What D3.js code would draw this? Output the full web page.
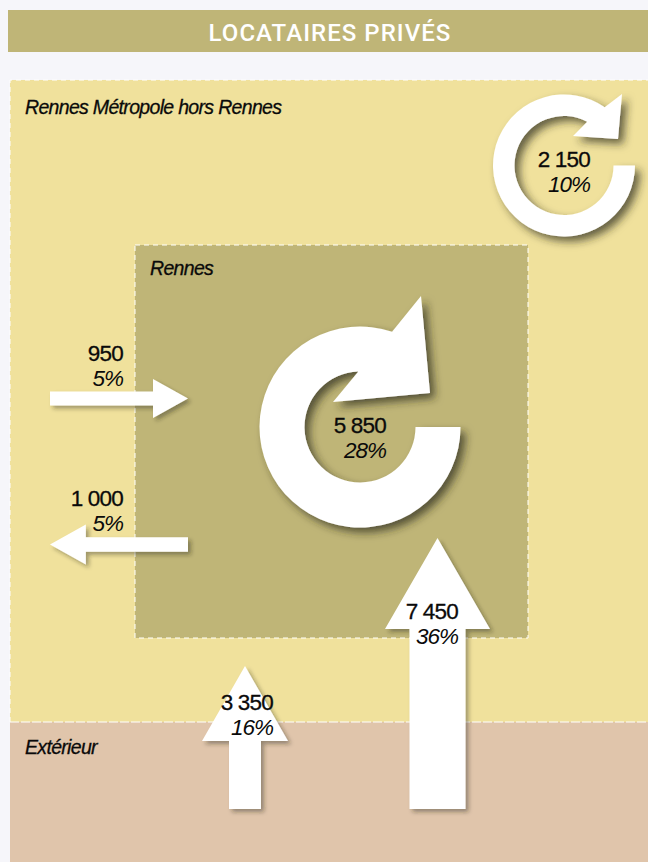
<!DOCTYPE html>
<html>
<head>
<meta charset="utf-8">
<script src="https://cdn.jsdelivr.net/npm/d3@7/dist/d3.min.js"></script>
<style>
  html, body { margin: 0; padding: 0; background: #f6f6fa; }
  svg { display: block; }
  text { font-family: "Liberation Sans", sans-serif; fill: #0a0a0a; }
</style>
</head>
<body>
<svg id="chart"></svg>
<script>
// values
var title = "LOCATAIRES PRIVÉS";
var zoneNames = ["Rennes Métropole hors Rennes", "Rennes", "Extérieur"];
var flowLabels = ["950", "1 000", "3 350", "7 450"];
var flowValues = [950, 1000, 3350, 7450];
var flowShares = ["5%", "5%", "16%", "36%"];
var loopLabels = ["2 150", "5 850"];
var loopValues = [2150, 5850];
var loopShares = ["10%", "28%"];

var width = 648;
var height = 862;

var svg = d3.select("#chart").attr("width", width).attr("height", height);

// arrows thickness from the flow value
var shaft = d3.scaleLinear().domain([950, 3350, 7450]).range([14, 32, 56]);
var headWidth = d3.scaleLinear().domain([950, 3350, 7450]).range([39, 86, 105]);
var headLength = d3.scaleLinear().domain([950, 3350, 7450]).range([35, 75, 91]);

// rings from the loop value
var outerR = d3.scaleLinear().domain([2150, 5850]).range([71, 100.5]);
var innerR = d3.scaleLinear().domain([2150, 5850]).range([49.5, 55.5]);

var defs = svg.append("defs");
function addShadow(id, dx, blur, op) {
  defs.append("filter").attr("id", id)
    .attr("x", "-20%").attr("y", "-20%").attr("width", "150%").attr("height", "150%")
    .append("feDropShadow")
    .attr("dx", dx).attr("dy", dx)
    .attr("stdDeviation", blur)
    .attr("flood-color", "#2b2a1a")
    .attr("flood-opacity", op);
}
addShadow("shadowArrow", 3, 2, 0.4);
addShadow("shadowRing", 5, 4, 0.7);

// background zones
var dash = "5,4";
svg.append("rect").attr("x", 8).attr("y", 10).attr("width", 640).attr("height", 42).attr("fill", "#bfb577");
svg.append("text").attr("x", 330).attr("y", 41)
  .attr("text-anchor", "middle")
  .style("font-family", "Roboto, sans-serif")
  .style("font-weight", 500)
  .style("font-size", "24px")
  .style("letter-spacing", "1.05px")
  .style("fill", "#fff")
  .text(title);

svg.append("rect").attr("x", 10).attr("y", 80).attr("width", 638).attr("height", 642).attr("fill", "#f0e19c");
svg.append("rect").attr("x", 10).attr("y", 722).attr("width", 638).attr("height", 140).attr("fill", "#e0c5ab");
svg.append("path").attr("d", "M10,722V80H648").attr("fill", "none")
  .attr("stroke", "#fff").attr("stroke-width", 1).attr("stroke-dasharray", dash);
svg.append("line").attr("x1", 10).attr("x2", 648).attr("y1", 722).attr("y2", 722)
  .attr("stroke", "#fff").attr("stroke-width", 1).attr("stroke-dasharray", "9,2");
svg.append("rect").attr("x", 135).attr("y", 245).attr("width", 393).attr("height", 393)
  .attr("fill", "#bfb577")
  .attr("stroke", "#fff").attr("stroke-width", 1).attr("stroke-dasharray", dash);

var zoneX = [25, 150, 25];
var zoneY = [114, 275, 754];
svg.selectAll(".zone").data(zoneNames).enter().append("text")
  .attr("class", "zone")
  .attr("x", (d, i) => zoneX[i])
  .attr("y", (d, i) => zoneY[i])
  .style("font-style", "italic")
  .style("font-size", "19.5px")
  .style("letter-spacing", "-0.68px")
  .style("stroke", "#0a0a0a")
  .style("stroke-width", "0.3px")
  .text(d => d);

// straight arrows: axis position, tail and tip along the axis
var arrowAxis = [398.5, 544.5, 245, 437.5];
var arrowTail = [50, 188, 809, 809];
var arrowTip = [188, 50, 666, 538];
var arrowHorizontal = [true, true, false, false];

var line = d3.line();

function arrowPoints(v, i) {
  var c = arrowAxis[i], t0 = arrowTail[i], t1 = arrowTip[i];
  var dir = t1 > t0 ? 1 : -1;
  var base = t1 - dir * headLength(v);
  var s = shaft(v) / 2, h = headWidth(v) / 2;
  var pts = [[t0, c - s], [base, c - s], [base, c - h], [t1, c], [base, c + h], [base, c + s], [t0, c + s]];
  return arrowHorizontal[i] ? pts : pts.map(p => [p[1], p[0]]);
}

svg.selectAll(".flow").data(flowValues).enter().append("path")
  .attr("class", "flow")
  .attr("d", (d, i) => line(arrowPoints(d, i)) + "Z")
  .attr("fill", "#fff")
  .attr("filter", "url(#shadowArrow)");

// rings: centre, then where the body joins the head and the head corners
var ringCx = [564, 360];
var ringCy = [165.5, 427];
var ringOuterJoin = [[41, -58.5], [32, -95]];
var ringInnerJoin = [[23, -43.5], [-2, -55]];
var ringHead = [
  [[58, -71.5], [54, -26.5], [9, -29.5]],
  [[61, -131], [70, -34], [-27, -25]]
];

function ringPath(v, i) {
  var cx = ringCx[i], cy = ringCy[i];
  var ro = outerR(v), ri = innerR(v);
  var oj = ringOuterJoin[i], ij = ringInnerJoin[i];
  var p = d3.path();
  p.moveTo(cx + ri, cy);
  p.lineTo(cx + ro, cy);
  p.arc(cx, cy, ro, 0, Math.atan2(oj[1], oj[0]) + 2 * Math.PI, false);
  ringHead[i].forEach(q => p.lineTo(cx + q[0], cy + q[1]));
  p.lineTo(cx + ij[0], cy + ij[1]);
  p.arc(cx, cy, ri, Math.atan2(ij[1], ij[0]) + 2 * Math.PI, 0, true);
  p.closePath();
  return p.toString();
}

svg.selectAll(".loop").data(loopValues).enter().append("path")
  .attr("class", "loop")
  .attr("d", ringPath)
  .attr("fill", "#fff")
  .attr("filter", "url(#shadowRing)");

// value labels
function addLabels(labels, shares, right, y1, y2) {
  var g = svg.append("g").attr("text-anchor", "end");
  g.selectAll(".num").data(labels).enter().append("text")
    .attr("x", (d, i) => right[i]).attr("y", (d, i) => y1[i])
    .style("font-size", "22.5px")
    .style("letter-spacing", "-0.8px")
    .style("stroke", "#0a0a0a").style("stroke-width", "0.3px")
    .text(d => d);
  g.selectAll(".pct").data(shares).enter().append("text")
    .attr("x", (d, i) => right[i]).attr("y", (d, i) => y2[i])
    .style("font-size", "22.5px")
    .style("font-style", "italic")
    .style("letter-spacing", "-1px")
    .text(d => d);
}
addLabels(flowLabels, flowShares, [123, 123, 273, 458], [361, 506, 710, 619], [386, 531, 735, 644]);
addLabels(loopLabels, loopShares, [590, 386], [167, 433], [192, 458]);
</script>
</body>
</html>
